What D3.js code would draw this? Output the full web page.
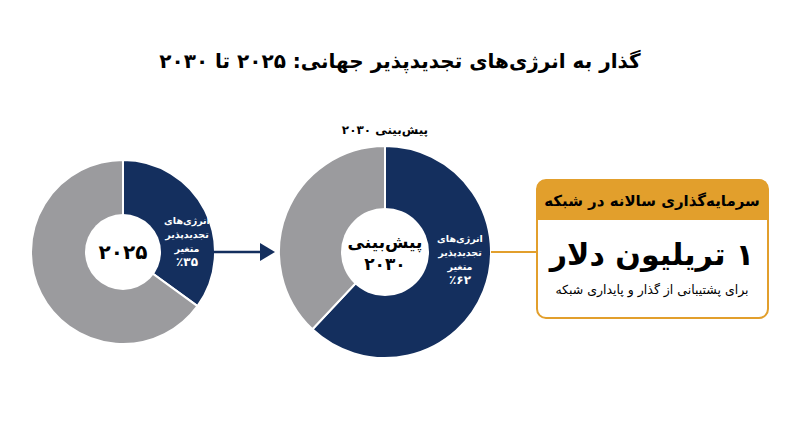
<!DOCTYPE html>
<html><head><meta charset="utf-8">
<script src="https://cdn.jsdelivr.net/npm/d3@7"></script>
<style>body{margin:0;background:#fff}text{font-family:"DejaVu Sans",sans-serif}</style>
</head><body><div id="chart"></div>
<script>
var years = ["۲۰۲۵", "۲۰۳۰"];
var renewShare = [35, 62];
var shareLabels = ["٪۳۵", "٪۶۲"];
var sliceLabel = ["انرژی‌های", "تجدیدپذیر", "متغیر"];
var title = "گذار به انرژی‌های تجدیدپذیر جهانی: ۲۰۲۵ تا ۲۰۳۰";

var width = 800, height = 447;
var navy = "#142f5e", gray = "#9b9b9e", orange = "#e29f2c";
var svg = d3.select("#chart").append("svg").attr("width", width).attr("height", height);

svg.append("text").attr("x", 400).attr("y", 68).attr("text-anchor", "middle")
  .attr("font-size", 20).attr("font-weight", "bold").attr("direction", "rtl").text(title);

var donuts = [
  {cx: 123, cy: 252, r: 92, ir: 38, lx: 187, ly: 224, center: [years[0]]},
  {cx: 385, cy: 252, r: 106, ir: 44, lx: 460, ly: 242, center: ["پیش‌بینی", years[1]]}
];
var pie = d3.pie().sort(null);

donuts.forEach(function(d, i) {
  var g = svg.append("g").attr("transform", "translate(" + d.cx + "," + d.cy + ")");
  var arc = d3.arc().innerRadius(0).outerRadius(d.r);
  g.selectAll("path").data(pie([renewShare[i], 100 - renewShare[i]])).enter().append("path")
    .attr("d", arc).attr("fill", (p, j) => j == 0 ? navy : gray)
    .attr("stroke", "#fff").attr("stroke-width", 2);
  g.append("circle").attr("r", d.ir).attr("fill", "#fff");
  var lines = sliceLabel.concat([shareLabels[i]]);
  lines.forEach(function(t, k) {
    svg.append("text").attr("x", d.lx).attr("y", d.ly + k * 14).attr("text-anchor", "middle")
      .attr("fill", "#fff").attr("font-size", k == 3 ? 12 : 9.5).attr("font-weight", "bold")
      .attr("direction", k == 3 ? "ltr" : "rtl").text(t);
  });
  d.center.forEach(function(t, k) {
    var n = d.center.length;
    svg.append("text").attr("x", d.cx).attr("y", d.cy + 7 + (k - (n - 1) / 2) * 22)
      .attr("text-anchor", "middle").attr("font-size", n > 1 ? 17 : 20).attr("font-weight", "bold")
      .attr("direction", "rtl").text(t);
  });
});

svg.append("text").attr("x", 385).attr("y", 134).attr("text-anchor", "middle")
  .attr("font-size", 12).attr("font-weight", "bold").attr("direction", "rtl")
  .text("پیش‌بینی " + years[1]);

// arrow
svg.append("line").attr("x1", 214).attr("x2", 262).attr("y1", 252).attr("y2", 252)
  .attr("stroke", navy).attr("stroke-width", 2.5);
svg.append("path").attr("d", "M260,243 L275,252 L260,261 Z").attr("fill", navy);

// connector and box
svg.append("line").attr("x1", 491).attr("x2", 537).attr("y1", 252).attr("y2", 252)
  .attr("stroke", orange).attr("stroke-width", 2);
svg.append("rect").attr("x", 537).attr("y", 180).attr("width", 231).attr("height", 138)
  .attr("rx", 9).attr("fill", "#fff").attr("stroke", orange).attr("stroke-width", 2);
svg.append("path").attr("d", "M537,220 V189 Q537,180 546,180 H759 Q768,180 768,189 V220 Z").attr("fill", orange);
svg.append("text").attr("x", 652).attr("y", 206).attr("text-anchor", "middle").attr("font-size", 15)
  .attr("font-weight", "bold").attr("direction", "rtl").text("سرمایه‌گذاری سالانه در شبکه");
svg.append("text").attr("x", 652).attr("y", 265).attr("text-anchor", "middle").attr("font-size", 30)
  .attr("font-weight", "bold").attr("direction", "rtl").text("۱ تریلیون دلار");
svg.append("text").attr("x", 652).attr("y", 294).attr("text-anchor", "middle").attr("font-size", 12.5)
  .attr("direction", "rtl").text("برای پشتیبانی از گذار و پایداری شبکه");
</script></body></html>
